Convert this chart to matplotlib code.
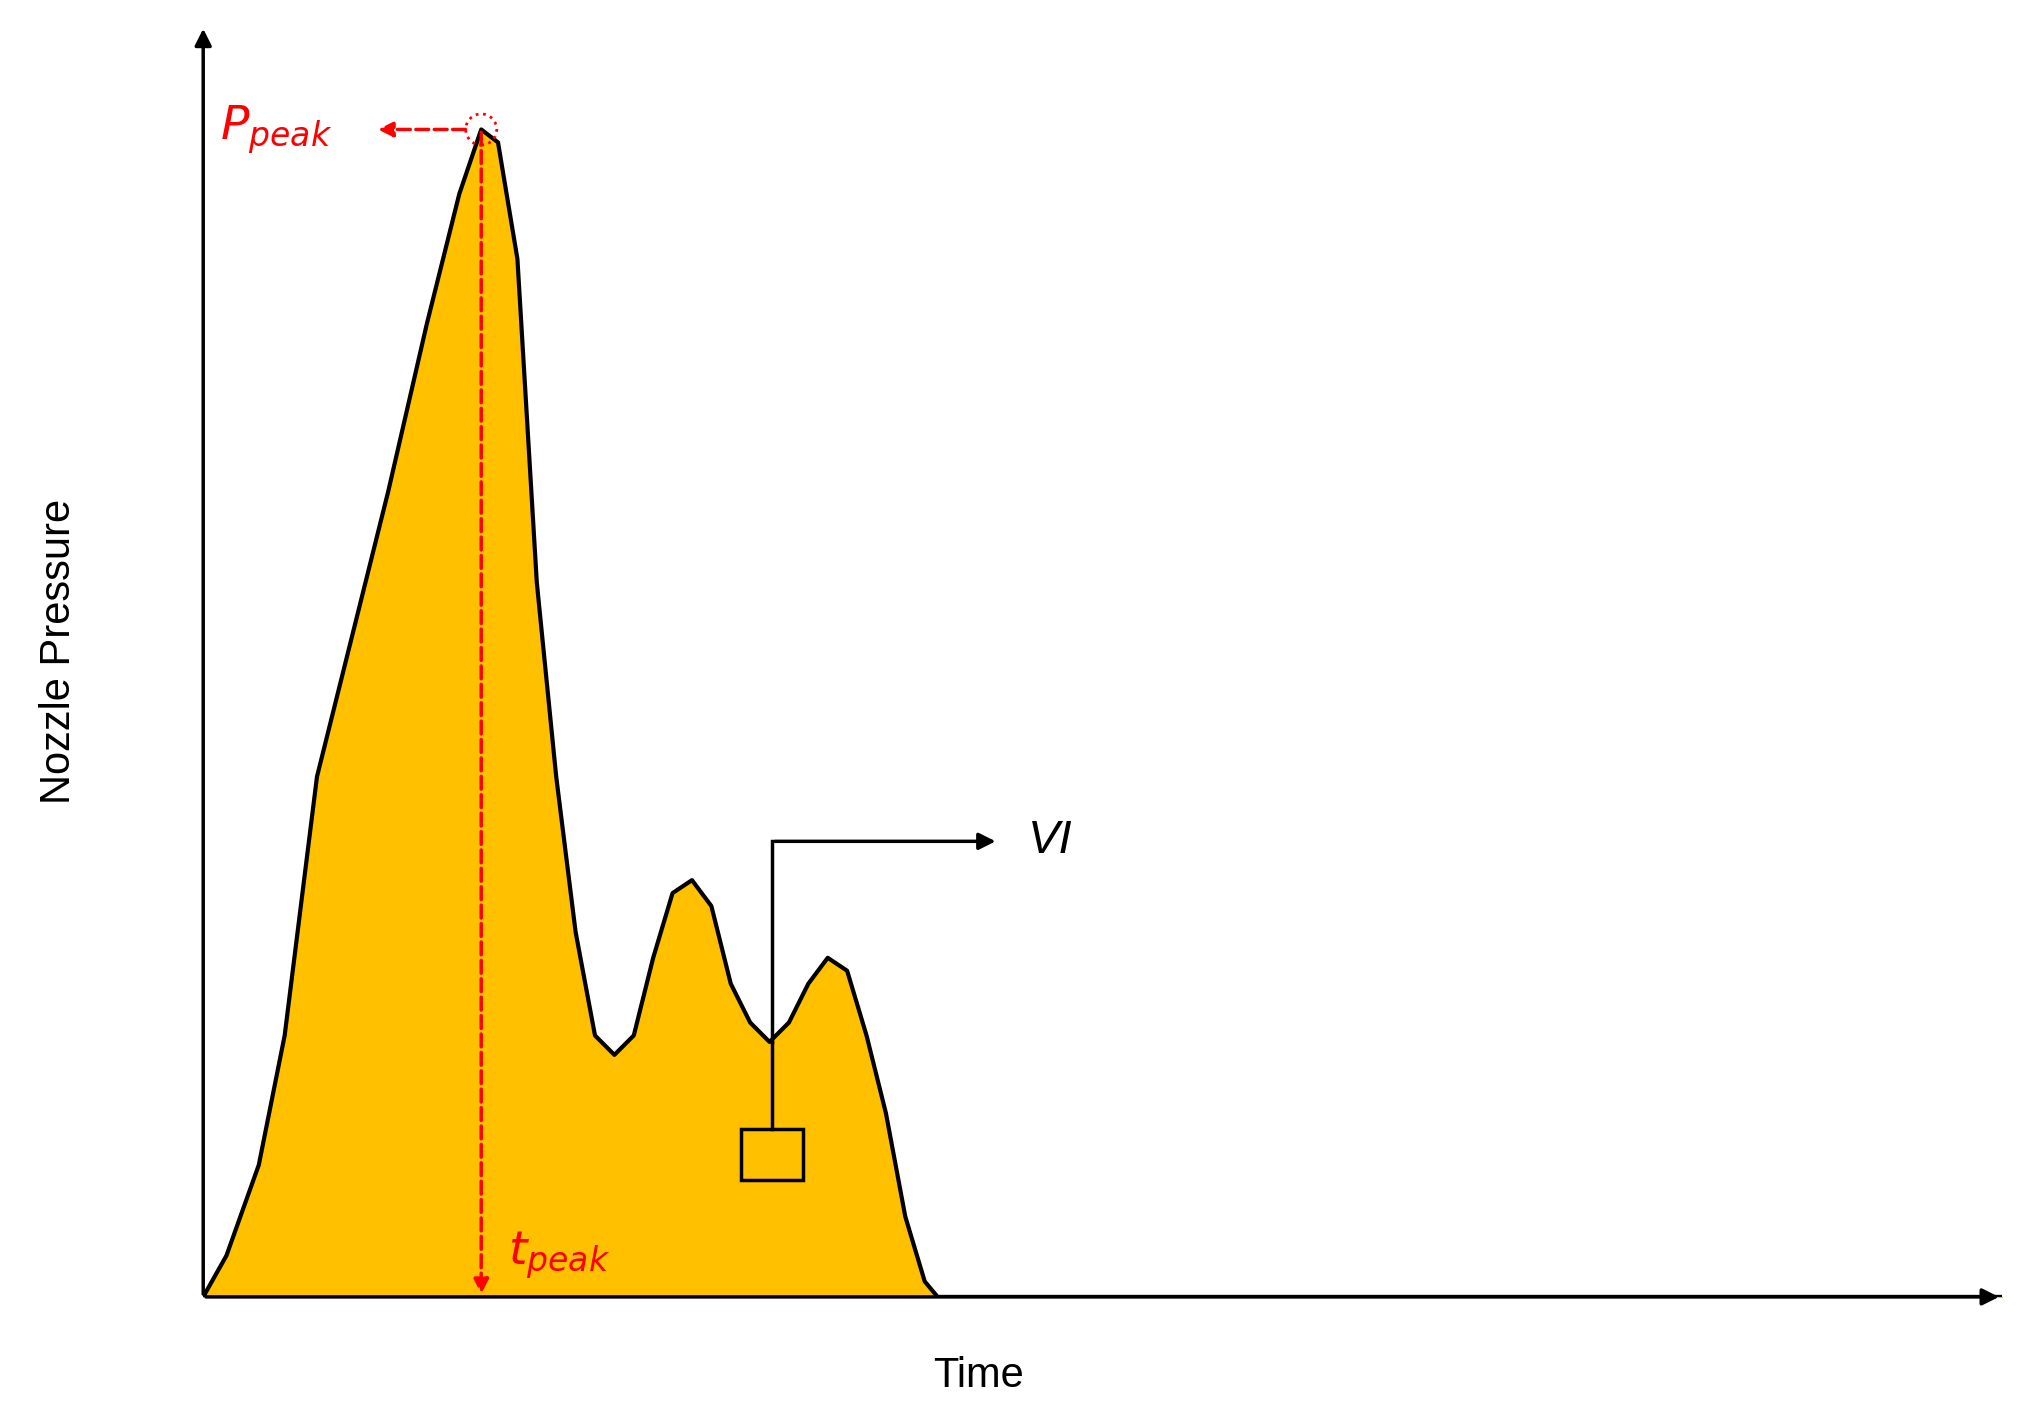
import matplotlib.pyplot as plt
from matplotlib.patches import Rectangle, Circle

plt.rcParams['font.family'] = ['Liberation Sans', 'DejaVu Sans']

# pressure trace (arbitrary units)
time = [0, 18, 43, 63, 88, 108, 143, 173, 198, 215, 228, 243, 258, 273, 288,
        303, 318, 333, 348, 363, 378, 393, 408, 423, 438, 453, 468, 483, 498,
        513, 528, 543, 558, 568, 1391]
pressure = [0, 32, 102, 202, 402, 482, 622, 752, 852, 902, 892, 802, 552, 402,
            282, 202, 187, 202, 262, 312, 322, 302, 242, 212, 197, 212, 242,
            262, 252, 202, 142, 62, 12, 0, 0]

t_peak, p_peak = 215, 902
vi_t, vi_p = 440, 197

fig = plt.figure(figsize=(20.22, 14.16), dpi=100)
ax = fig.add_axes([0.1005, 0.0841, 0.8895, 0.8976])
ax.set_xlim(0, 1391)
ax.set_ylim(0, 982)
ax.axis('off')

ax.fill_between(time, pressure, color='#FFC000', zorder=1)
ax.plot(time, pressure, color='black', lw=3, zorder=2)

# axes arrows
ax.annotate('', xy=(0, 982), xytext=(0, 0),
            arrowprops=dict(arrowstyle='-|>', color='black', lw=2.5, mutation_scale=25))
ax.annotate('', xy=(1391, 0), xytext=(0, 0),
            arrowprops=dict(arrowstyle='-|>', color='black', lw=2.5, mutation_scale=25))

# peak markers
ax.add_patch(Circle((t_peak, p_peak), 12, fill=False, ls=':', color='red', lw=2, zorder=3))
ax.annotate('', xy=(133, p_peak), xytext=(205, p_peak),
            arrowprops=dict(arrowstyle='-|>', color='red', lw=2.5, ls='--', mutation_scale=22))
ax.annotate('', xy=(t_peak, 0), xytext=(t_peak, p_peak),
            arrowprops=dict(arrowstyle='-|>', color='red', lw=2.5, ls='--', mutation_scale=22))
ax.text(13, p_peak, r'$P_{peak}$', color='red', fontsize=34, va='center', ha='left',
        fontstyle='italic')
ax.text(236, 32, r'$t_{peak}$', color='red', fontsize=34, va='center', ha='left')

# VI indicator
ax.plot([vi_t, vi_t], [vi_p, 352], color='black', lw=2.5, zorder=3)
ax.annotate('', xy=(615, 352), xytext=(vi_t, 352),
            arrowprops=dict(arrowstyle='-|>', color='black', lw=2.5, mutation_scale=25))
ax.plot([vi_t, vi_t], [vi_p, 130], color='black', lw=2.5, zorder=3)
ax.add_patch(Rectangle((vi_t - 24, 90), 48, 40, fill=False, ec='black', lw=2.5, zorder=3))
ax.text(638, 352, 'VI', fontsize=34, fontstyle='italic', va='center', ha='left')

fig.text(0.484, 0.028, 'Time', fontsize=30, ha='center', va='center')
fig.text(0.029, 0.54, 'Nozzle Pressure', fontsize=30, ha='center', va='center', rotation=90)

fig.savefig('out.png', dpi=100)
